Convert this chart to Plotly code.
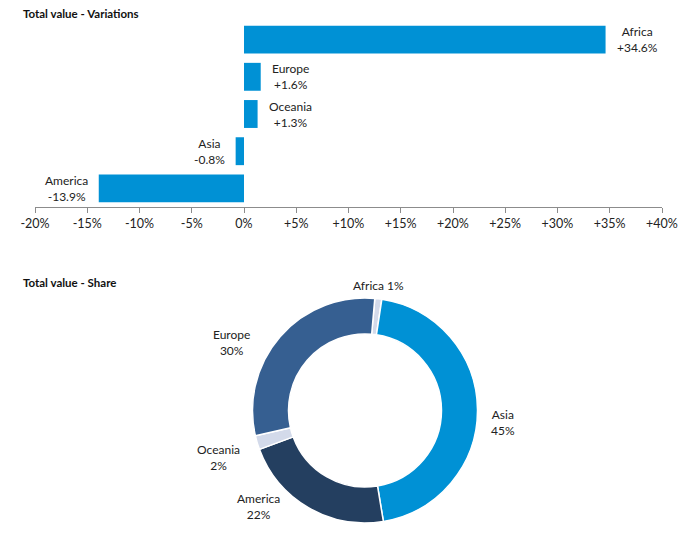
import plotly.graph_objects as go

# Bar chart data (top to bottom)
bar_regions = ["Africa", "Europe", "Oceania", "Asia", "America"]
bar_values = [34.6, 1.6, 1.3, -0.8, -13.9]
tick_vals = [-20, -15, -10, -5, 0, 5, 10, 15, 20, 25, 30, 35, 40]
tick_text = ["-20%", "-15%", "-10%", "-5%", "0%", "+5%", "+10%", "+15%", "+20%",
             "+25%", "+30%", "+35%", "+40%"]

# Donut data (clockwise, first slice starting just right of 12 o'clock)
pie_regions = ["Africa", "Asia", "America", "Oceania", "Europe"]
pie_values = [1, 45, 22, 2, 30]
pie_colors = ["#D3DAEA", "#0091D5", "#243F60", "#D3DAEA", "#365F91"]

# Layout: label anchor points (pixels) for the donut labels, Excel "best fit" style
pie_label_px = {
    "Asia": (503, 422),
    "America": (258, 506),
    "Oceania": (218, 457),
    "Europe": (232, 342),
    "Africa": (378, 285),
}

W, H = 700, 535
FONT = "Lato, 'Open Sans', sans-serif"
TXT = "#222222"

def fmt(v):
    return ("+" if v > 0 else "") + f"{v:.1f}%"

fig = go.Figure()
fig.add_trace(go.Bar(
    x=bar_values, y=bar_regions, orientation="h",
    marker=dict(color="#0091D5", line=dict(width=0)),
    hoverinfo="skip",
))
fig.add_trace(go.Pie(
    labels=pie_regions, values=pie_values, sort=False, direction="clockwise",
    rotation=5, hole=0.68,
    marker=dict(colors=pie_colors, line=dict(color="white", width=1.5)),
    textinfo="none",
    domain=dict(x=[252/W, 478/W], y=[1-523/H, 1-298/H]),
    showlegend=False, hoverinfo="skip", automargin=False,
))

annotations = [
    dict(text="<b>Total value - Variations</b>", x=21/W, y=1-14/H,
         xref="paper", yref="paper", xanchor="left", yanchor="middle",
         showarrow=False, font=dict(family=FONT, size=11.5, color="#111")),
    dict(text="<b>Total value - Share</b>", x=21/W, y=1-282/H,
         xref="paper", yref="paper", xanchor="left", yanchor="middle",
         showarrow=False, font=dict(family=FONT, size=11.5, color="#111")),
]
for r, v in zip(bar_regions, bar_values):
    annotations.append(dict(
        text=f"{r}<br>{fmt(v)}", x=v, y=r, xref="x", yref="y",
        xanchor="left" if v >= 0 else "right", yanchor="middle",
        xshift=9 if v >= 0 else -9, align="center", showarrow=False,
        font=dict(family=FONT, size=12, color=TXT),
    ))
for r, v in zip(pie_regions, pie_values):
    px, py = pie_label_px[r]
    txt = f"{r} {v}%" if r == "Africa" else f"{r}<br>{v}%"
    annotations.append(dict(
        text=txt, x=px/W, y=1-py/H, xref="paper", yref="paper",
        xanchor="center", yanchor="middle", align="center", showarrow=False,
        font=dict(family=FONT, size=12, color=TXT),
    ))

fig.update_layout(
    width=W, height=H,
    margin=dict(l=0, r=0, t=0, b=0, autoexpand=False),
    paper_bgcolor="white", plot_bgcolor="white",
    showlegend=False,
    font=dict(family=FONT, size=12, color=TXT),
    bargap=0.25,
    xaxis=dict(
        domain=[35/W, 662/W], range=[-20, 40],
        tickvals=tick_vals, ticktext=tick_text,
        showgrid=False, zeroline=False,
        showline=True, linecolor="#8c8c8c", linewidth=1,
        ticks="outside", ticklen=5, tickcolor="#8c8c8c",
        tickfont=dict(family=FONT, size=12.5, color=TXT),
        anchor="y", automargin=False,
    ),
    yaxis=dict(
        domain=[1-207/H, 1-21/H],
        categoryorder="array", categoryarray=bar_regions[::-1],
        showticklabels=False, showgrid=False, zeroline=False, showline=False,
        ticks="", automargin=False,
    ),
    annotations=annotations,
)

fig.write_html("out.html")
